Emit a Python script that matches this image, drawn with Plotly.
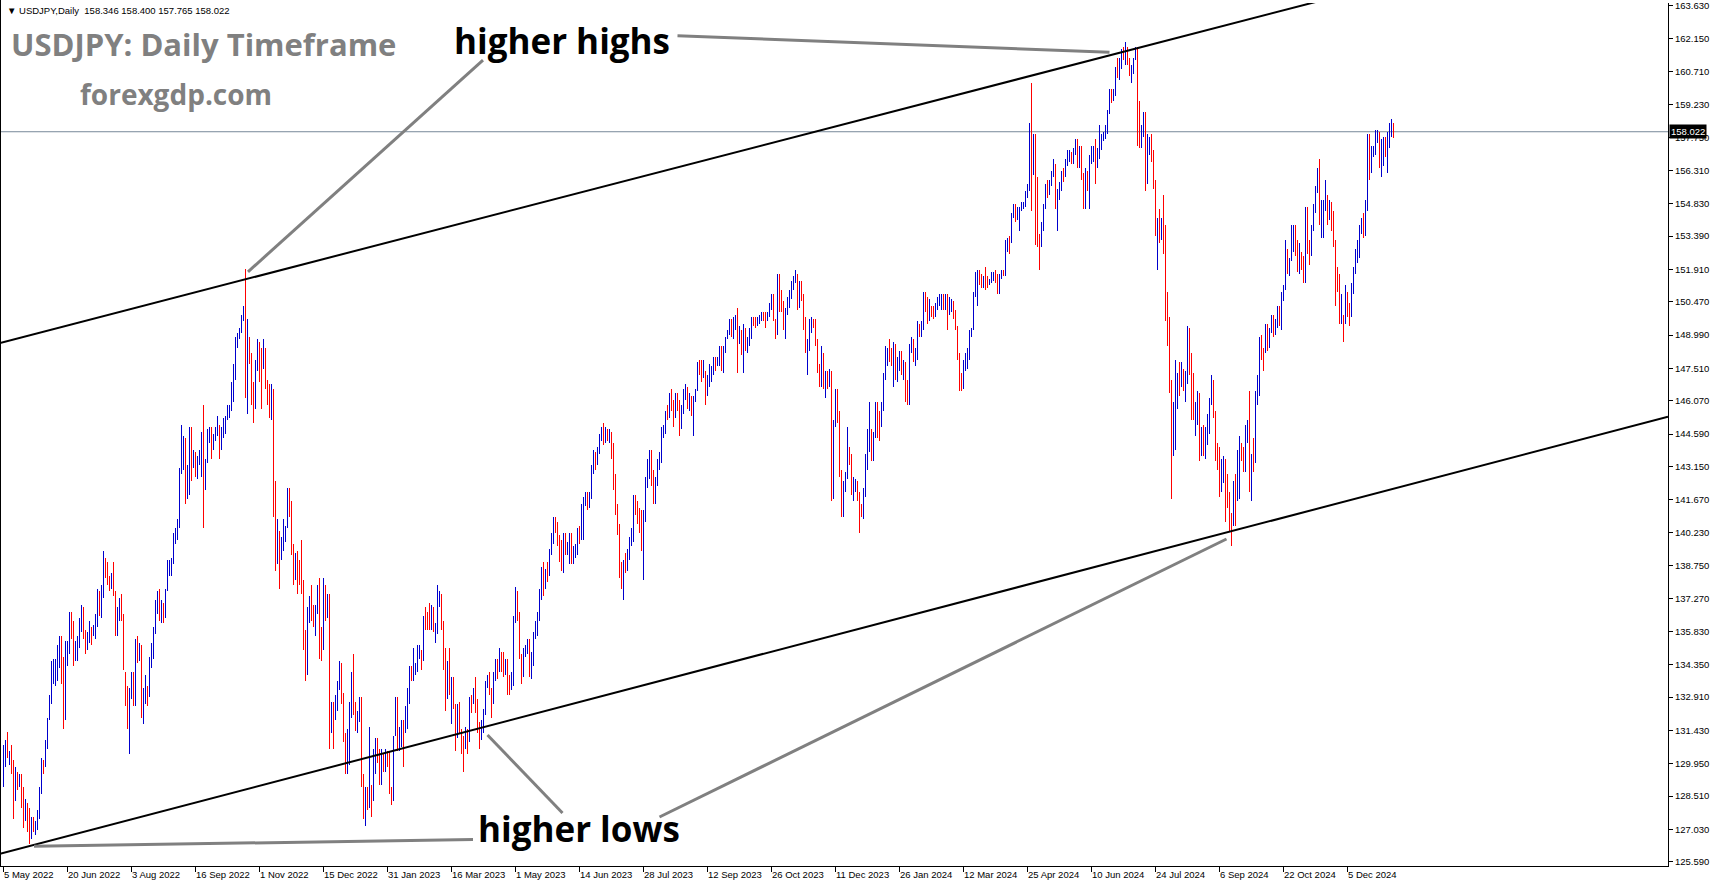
import plotly.graph_objects as go

# ---------------- data (USDJPY daily) ----------------
first_open = 129.1

highs = [
    130.8, 131.0,
    131.35, 130.5, 130.8, 130.1, 129.8,
    129.6, 129.5, 129.5, 128.9, 128.4,
    128.2, 128.0, 127.6, 127.6, 127.4,
    127.9, 128.9, 130.2, 130.1, 131.0,
    132.0, 133.0, 134.5, 134.6, 134.6,
    135.2, 135.6, 135.6, 134.7, 135.4,
    135.4, 136.7, 136.7, 136.3, 135.4,
    135.6, 136.4, 137.0, 136.9, 135.9,
    135.8, 136.3, 136.0, 136.1, 136.6,
    137.7, 137.6, 137.9, 139.4, 139.1,
    138.9, 138.3, 138.4, 138.9, 137.6,
    136.9, 137.3, 137.5, 136.6, 134.0,
    133.4, 133.3, 134.0, 134.0, 135.5,
    135.6, 135.3, 135.2, 133.3, 133.9,
    133.4, 134.7, 135.3, 136.0, 137.2,
    137.6, 137.7, 137.2, 137.1, 137.7,
    139.0, 139.0, 139.1, 140.2, 140.4,
    140.8, 143.1, 145.0, 144.5, 144.4,
    143.2, 144.9, 144.9, 143.9, 143.8,
    143.6, 143.9, 144.7, 145.9, 143.5,
    144.8, 144.9, 144.9, 144.6, 144.9,
    145.4, 145.0, 144.9, 145.3, 145.4,
    145.9, 145.9, 146.9, 147.7, 148.9,
    149.1, 149.3, 149.9, 150.3, 151.94,
    149.7, 148.9, 148.2, 146.9, 147.9,
    148.8, 148.7, 148.4, 148.8, 148.4,
    147.0, 146.8, 146.8, 146.6, 142.5,
    140.8, 140.3, 140.0, 140.8, 140.5,
    142.2, 142.2, 141.6, 139.7, 139.3,
    139.4, 139.0, 139.9, 138.1, 135.9,
    136.9, 137.4, 137.9, 137.0, 137.0,
    137.9, 138.2, 136.0, 138.2, 137.9,
    137.5, 137.5, 132.7, 132.7, 133.0,
    133.6, 134.5, 134.4, 133.1,
    131.3, 131.5, 132.7, 134.0, 134.8,
    132.7, 132.3, 132.9, 132.9, 129.5,
    128.9, 128.9, 131.6, 129.0, 130.6,
    131.1, 131.1, 130.6, 130.6, 130.4,
    130.6, 130.5, 130.5, 128.9, 131.2,
    132.9, 132.9, 131.6, 131.9, 131.9,
    132.5, 133.3, 134.3, 134.3, 135.1,
    134.4, 135.2, 135.2, 135.0, 136.5,
    136.9, 136.7, 137.1, 137.0, 136.9,
    136.2, 137.9, 137.6, 137.5, 136.3,
    135.1, 134.5, 135.1, 133.8, 133.8,
    132.6, 132.6, 132.7, 131.5, 131.2,
    131.6, 131.5, 132.9, 133.0, 133.3,
    133.8, 132.8, 131.8, 131.9, 132.4,
    133.6, 133.9, 134.0, 133.3, 134.0,
    134.6, 134.6, 135.1, 134.9, 134.9,
    134.6, 134.6, 133.9, 134.0, 136.5,
    137.8, 137.6, 136.7, 134.8, 135.1,
    135.2, 135.5, 135.5, 134.9, 135.8,
    136.3, 136.7, 137.7, 138.7, 138.9,
    138.6, 138.9, 139.5, 140.2, 140.9,
    140.9, 140.7, 140.1, 139.9, 140.2,
    140.2, 139.8, 140.2, 140.2, 139.6,
    139.7, 140.4, 140.5, 141.5, 141.8,
    142.0, 142.0, 142.0, 143.2, 143.9,
    143.8, 144.0, 144.6, 144.9, 145.1,
    144.9, 144.8, 144.8, 144.7, 144.2,
    142.8, 141.5, 140.6, 138.9, 139.0,
    139.3, 139.5, 140.0, 140.4, 141.9,
    141.9, 141.6, 141.3, 141.2, 141.2,
    142.7, 143.5, 143.9, 143.9, 143.0,
    142.7, 143.5, 143.8, 144.9, 145.0,
    145.6, 145.9, 146.4, 146.6, 146.1,
    146.4, 146.4, 146.1, 145.9, 146.6,
    146.8, 146.7, 146.4, 146.3, 146.3,
    146.6, 147.8, 147.9, 147.9, 147.9,
    147.4, 147.2, 147.7, 147.6, 148.0,
    148.0, 148.0, 148.5, 148.5, 148.5,
    148.9, 149.2, 149.7, 149.7, 149.8,
    149.9, 150.2, 149.4, 149.2, 149.5,
    149.3, 148.9, 149.3, 149.8, 149.8,
    149.8, 149.8, 149.9, 150.0, 150.0,
    150.0, 150.0, 150.4, 150.8, 150.8,
    149.7, 151.7, 151.7, 151.0, 150.5,
    150.2, 150.7, 151.0, 151.4, 151.6,
    151.9, 151.7, 151.4, 151.4, 150.8,
    149.8, 148.8, 149.7, 149.8, 149.7,
    149.7, 148.8, 147.7, 148.5, 148.2,
    147.4, 147.4, 147.5, 147.4, 145.2,
    146.6, 146.6, 145.6, 143.0, 142.5,
    142.9, 144.9, 144.0, 143.7, 142.7,
    142.6, 142.5, 142.0, 141.5,
    142.2, 143.7, 144.8, 146.0,
    144.8, 144.7, 146.0, 146.0, 145.6,
    146.0, 147.3, 148.5, 148.4, 148.8,
    148.4, 148.7, 148.6, 148.0, 148.3,
    148.3, 147.9, 147.8, 147.0, 148.6,
    148.9, 148.8, 148.4, 149.6, 149.5,
    149.6, 150.9, 150.9, 150.7, 150.6,
    150.3, 150.3, 150.4, 150.7, 150.8,
    150.8, 150.8, 150.8, 150.8, 150.7,
    150.6, 150.5, 150.1, 149.4, 148.2,
    147.3, 147.9, 148.2, 148.4, 149.2,
    149.3, 150.9, 151.8, 151.9, 151.9,
    151.7, 151.6, 152.0, 151.6, 151.5,
    151.8, 151.8, 151.9, 151.7, 151.7,
    151.9, 151.9, 153.2, 153.3, 153.4,
    154.4, 154.8, 154.8, 154.7, 154.7,
    154.9, 154.9, 155.4, 155.7, 158.4,
    160.2, 157.9, 157.9, 156.0, 153.5,
    154.0, 154.8, 155.7, 155.9, 155.9,
    156.3, 156.8, 156.6, 155.5, 155.8,
    156.3, 156.4, 156.8, 157.2, 157.2,
    157.1, 157.3, 157.7, 157.7, 157.4,
    157.4, 156.2, 156.4, 156.3, 157.0,
    157.4, 157.4, 157.7, 157.3, 158.3,
    157.9, 158.0, 158.3, 159.0, 159.9,
    159.9, 159.9, 160.9, 161.3, 161.3,
    161.7, 161.8, 162.0, 161.8, 161.3,
    161.0, 161.3, 161.8, 161.8, 159.4,
    158.3, 158.9, 158.9, 157.9, 157.8,
    157.9, 157.2, 155.9, 154.2, 154.6,
    154.2, 155.2, 153.9, 150.9, 149.8,
    147.0, 146.0, 147.9, 147.3, 147.8,
    147.8, 147.5, 147.4, 149.4, 149.3,
    148.2, 147.3, 146.0, 146.5, 146.4,
    144.9, 145.0, 144.9, 145.5, 146.2,
    147.2, 147.0, 145.6, 144.2, 144.0,
    143.5, 143.6, 143.5, 142.8, 142.0,
    141.1, 142.5, 142.8, 143.9, 144.5,
    144.2, 144.0, 145.0, 145.2, 146.5,
    143.7, 144.4, 146.5, 147.2, 148.9,
    149.0, 148.4, 149.5, 149.5, 149.3,
    149.9, 149.9, 149.7, 150.3, 150.3,
    150.9, 151.2, 153.2, 152.8, 152.4,
    153.9, 153.9, 153.9, 153.2, 153.1,
    152.7, 152.5, 154.7, 154.7, 153.2,
    153.9, 154.8, 155.6, 156.4, 156.8,
    155.0, 155.0, 155.9, 155.2, 155.0,
    154.9, 154.5, 153.2, 152.0, 151.7,
    150.8, 149.9, 151.2, 150.9, 150.4,
    151.3, 152.0, 152.8, 153.2, 153.9,
    154.2, 154.4, 155.0, 157.9, 157.9,
    157.4, 157.4, 158.1, 158.1,
    158.0, 157.7,
    157.8, 157.8,
    158.0, 158.4, 158.6, 158.4,
]

lows = [
    128.9, 129.8,
    130.2, 129.9, 129.5, 127.5, 128.3,
    128.8, 128.9, 128.0, 127.1, 127.4,
    126.9, 126.36, 126.6, 126.9, 126.8,
    127.0, 127.5, 128.6, 129.5, 129.8,
    130.6, 131.9, 132.6, 133.5, 133.4,
    133.6, 134.2, 133.5, 131.5, 131.9,
    134.3, 134.8, 135.5, 134.3, 134.5,
    134.5, 135.1, 135.8, 135.5, 134.8,
    135.0, 135.3, 135.2, 135.6, 135.5,
    136.0, 136.5, 136.4, 137.3, 138.2,
    137.9, 137.6, 137.7, 137.4, 135.6,
    135.6, 136.3, 136.3, 134.1, 132.5,
    131.5, 130.4, 132.8, 132.5, 132.5,
    134.4, 134.5, 132.0, 131.7, 132.6,
    132.5, 132.9, 134.2, 134.6, 135.7,
    136.6, 136.3, 136.2, 136.2, 136.4,
    137.6, 138.3, 138.3, 138.8, 139.7,
    139.9, 140.4, 142.8, 143.0, 141.5,
    141.7, 141.9, 142.5, 143.1, 142.7,
    142.6, 143.2, 142.7, 140.4, 142.1,
    143.3, 144.2, 143.5, 143.9, 144.3,
    144.5, 143.5, 143.9, 144.4, 144.6,
    145.2, 145.3, 145.6, 146.0, 147.0,
    148.4, 148.8, 149.1, 149.6, 146.2,
    145.5, 147.7, 145.9, 145.1, 145.7,
    147.4, 146.9, 145.7, 147.5, 146.6,
    145.9, 145.3, 145.2, 140.9, 138.5,
    138.8, 137.7, 139.0, 139.4, 139.8,
    140.4, 140.9, 139.2, 137.9, 138.1,
    137.5, 137.9, 137.5, 135.0, 133.6,
    133.9, 136.2, 136.3, 136.0, 135.6,
    136.6, 134.6, 134.5, 135.0, 136.3,
    136.4, 130.6, 131.3, 130.6, 131.9,
    132.3, 133.2, 132.6, 130.9,
    129.5, 129.5, 129.9, 132.0, 132.1,
    131.4, 131.3, 131.8, 128.9, 127.5,
    127.2, 127.9, 128.0, 127.6, 128.3,
    129.5, 130.0, 129.0, 129.0, 129.6,
    129.6, 129.8, 128.6, 128.1, 128.3,
    131.2, 130.5, 130.5, 130.7, 129.8,
    131.3, 131.5, 132.6, 133.6, 133.6,
    133.9, 134.0, 134.6, 134.1, 134.5,
    135.9, 135.9, 135.9, 135.9, 135.8,
    135.3, 135.7, 136.9, 135.9, 134.1,
    132.3, 132.8, 133.0, 131.7, 132.4,
    130.5, 131.1, 131.3, 130.4, 129.6,
    130.6, 130.4, 130.9, 132.2, 132.6,
    132.2, 131.3, 130.6, 131.0, 131.3,
    132.1, 133.3, 133.0, 132.0, 132.6,
    133.6, 133.7, 134.0, 134.0, 133.8,
    133.9, 133.0, 133.0, 133.2, 133.4,
    136.2, 136.3, 134.6, 133.5, 133.8,
    134.7, 134.8, 133.8, 133.7, 134.3,
    135.5, 135.6, 136.3, 137.2, 137.4,
    137.7, 138.0, 138.3, 139.2, 139.7,
    140.2, 139.6, 138.9, 138.5, 138.4,
    139.2, 139.2, 138.8, 138.8, 138.8,
    139.1, 139.2, 139.7, 139.9, 139.9,
    141.4, 141.2, 141.3, 141.7, 142.8,
    143.0, 143.2, 143.7, 144.3, 144.1,
    144.2, 144.3, 144.2, 143.5, 142.1,
    141.0, 140.1, 138.2, 137.7, 137.2,
    138.4, 138.5, 139.0, 139.6, 139.8,
    141.0, 140.6, 140.2, 139.4, 138.1,
    140.7, 142.2, 142.6, 142.3, 141.5,
    141.5, 142.3, 143.0, 143.3, 144.4,
    144.6, 145.2, 145.3, 145.6, 144.9,
    145.3, 145.6, 144.5, 144.8, 145.5,
    146.1, 145.7, 145.6, 145.4, 144.5,
    146.0, 146.5, 147.2, 146.9, 147.1,
    145.9, 146.3, 146.7, 146.9, 147.2,
    147.4, 147.6, 147.6, 147.4, 147.3,
    148.2, 148.8, 149.0, 148.9, 148.8,
    149.2, 147.3, 148.6, 148.1, 147.3,
    148.3, 148.2, 148.5, 148.8, 149.4,
    149.3, 149.4, 149.5, 149.6, 149.6,
    149.3, 149.6, 149.8, 150.1, 149.6,
    148.8, 149.0, 150.0, 150.0, 149.2,
    148.8, 149.9, 150.2, 150.6, 151.0,
    151.3, 150.1, 150.2, 150.5, 149.2,
    148.2, 147.2, 148.3, 149.1, 149.3,
    148.5, 147.3, 146.7, 146.7, 146.6,
    146.2, 146.6, 146.7, 141.6, 141.7,
    144.9, 145.1, 142.7, 140.9, 140.9,
    142.0, 142.6, 143.2, 141.9, 141.6,
    142.0, 141.6, 140.2, 140.9,
    140.8, 141.8, 143.0, 143.8,
    143.4, 143.4, 144.4, 144.4, 144.3,
    144.9, 145.6, 147.0, 147.6, 147.8,
    147.6, 146.7, 147.0, 146.9, 147.4,
    147.2, 147.0, 146.0, 145.9, 145.9,
    148.2, 147.8, 147.6, 147.9, 148.9,
    148.9, 149.2, 150.0, 149.5, 149.6,
    149.8, 149.7, 149.8, 150.1, 150.3,
    150.1, 150.1, 150.1, 149.2, 149.9,
    150.0, 149.7, 149.2, 147.9, 146.5,
    146.5, 146.6, 147.4, 147.5, 147.9,
    148.9, 149.2, 150.7, 150.3, 151.2,
    151.1, 151.1, 151.0, 151.1, 151.2,
    151.3, 151.4, 151.3, 150.8, 150.8,
    151.5, 151.6, 151.6, 152.7, 152.6,
    153.1, 154.2, 154.0, 154.1, 153.6,
    154.5, 154.6, 154.7, 155.1, 155.4,
    154.5, 156.1, 153.0, 152.9, 151.9,
    152.9, 153.6, 154.6, 155.1, 155.2,
    155.6, 156.0, 154.6, 153.6, 155.0,
    155.4, 155.8, 156.0, 156.5, 156.7,
    156.6, 156.6, 157.0, 156.4, 156.4,
    155.9, 154.6, 154.6, 155.4, 154.6,
    156.6, 156.7, 155.7, 156.4, 156.8,
    157.2, 157.6, 157.7, 157.9, 158.8,
    159.3, 159.4, 159.6, 160.4, 160.3,
    160.8, 161.2, 161.0, 161.0, 160.5,
    160.2, 160.6, 161.2, 157.4, 157.3,
    157.3, 157.8, 155.4, 155.7, 157.0,
    156.7, 155.5, 153.4, 151.9, 153.1,
    153.2, 152.6, 149.6, 148.5, 146.4,
    141.7, 143.6, 143.9, 145.7, 146.3,
    146.7, 146.5, 146.0, 146.8, 147.2,
    145.2, 145.2, 144.5, 145.0, 143.4,
    143.6, 143.6, 143.5, 144.1, 144.6,
    145.9, 145.3, 143.4, 143.0, 141.8,
    142.0, 142.4, 140.7, 141.3, 140.3,
    139.6, 140.5, 140.5, 141.6, 141.7,
    143.4, 142.9, 142.9, 144.2, 142.0,
    141.6, 142.9, 143.3, 145.9, 146.3,
    147.9, 147.4, 148.2, 148.3, 148.4,
    149.1, 148.9, 149.0, 149.3, 149.4,
    149.2, 150.5, 151.0, 151.7, 151.6,
    152.3, 152.7, 152.5, 151.8, 151.7,
    151.9, 151.3, 151.3, 152.6, 152.1,
    152.5, 153.6, 154.4, 155.3, 153.9,
    153.3, 153.3, 154.5, 153.9, 154.1,
    153.6, 152.9, 150.3, 150.9, 149.5,
    149.5, 148.7, 149.5, 149.8, 149.4,
    149.8, 150.8, 151.7, 152.2, 152.4,
    153.5, 153.3, 153.4, 154.5, 155.9,
    156.2, 156.9, 157.0, 157.5,
    156.4, 156.0,
    156.5, 156.9,
    156.2, 157.3, 157.8, 157.765,
]

closes = [
    130.2, 130.6,
    130.3, 130.45, 129.9, 128.3, 129.2,
    129.1, 129.3, 128.2, 127.8, 127.9,
    127.6, 126.9, 127.3, 127.1, 127.2,
    127.6, 128.7, 130.0, 129.9, 130.9,
    131.9, 132.6, 134.2, 134.4, 134.45,
    134.5, 135.4, 134.0, 132.2, 134.9,
    135.0, 136.6, 136.2, 134.9, 135.2,
    135.4, 136.1, 136.6, 135.7, 135.2,
    135.7, 135.9, 135.8, 136.0, 136.1,
    137.4, 136.9, 137.4, 138.9, 138.5,
    138.2, 138.1, 138.2, 137.4, 136.1,
    136.7, 136.9, 136.6, 134.2, 133.3,
    131.6, 133.1, 133.8, 133.0, 135.0,
    134.9, 135.1, 132.9, 133.0, 133.4,
    133.3, 134.2, 135.0, 135.9, 137.0,
    137.5, 136.8, 137.1, 136.5, 137.5,
    138.7, 138.8, 138.9, 140.2, 140.25,
    140.5, 142.8, 144.0, 144.1, 142.6,
    142.8, 144.6, 143.2, 143.5, 142.9,
    143.2, 143.7, 144.0, 142.4, 143.4,
    144.7, 144.8, 144.2, 144.4, 144.7,
    144.9, 144.1, 144.6, 145.1, 145.3,
    145.7, 145.8, 146.9, 147.2, 148.7,
    148.9, 149.2, 149.9, 150.1, 147.6,
    148.9, 148.0, 146.3, 146.2, 147.5,
    148.7, 148.2, 147.9, 148.2, 146.6,
    146.6, 145.6, 146.4, 141.0, 138.8,
    139.9, 139.3, 139.5, 140.3, 140.4,
    142.1, 141.2, 139.6, 138.6, 139.1,
    138.9, 138.7, 138.0, 135.3, 134.3,
    136.7, 137.0, 136.6, 136.5, 136.6,
    137.7, 135.6, 135.5, 137.8, 136.7,
    136.9, 131.7, 132.4, 132.3, 132.9,
    133.5, 134.4, 133.0, 131.1,
    130.7, 131.0, 132.4, 133.4, 132.1,
    131.9, 132.2, 132.5, 129.1, 127.9,
    128.5, 128.1, 128.9, 128.4, 129.6,
    130.7, 130.2, 129.2, 130.2, 129.9,
    130.4, 130.1, 128.9, 128.6, 131.2,
    132.6, 131.1, 131.4, 131.7, 131.4,
    132.4, 133.1, 134.1, 133.9, 134.2,
    134.3, 134.9, 135.0, 134.7, 136.4,
    136.3, 136.2, 136.1, 136.7, 135.8,
    135.9, 137.2, 137.3, 136.1, 134.9,
    133.2, 134.2, 133.4, 133.7, 132.4,
    131.3, 132.4, 131.4, 130.8, 130.7,
    131.5, 130.9, 132.9, 132.7, 132.8,
    132.5, 131.7, 131.2, 131.7, 132.2,
    133.6, 133.7, 133.1, 132.6, 133.8,
    134.5, 134.1, 134.7, 134.6, 134.2,
    134.3, 133.7, 133.6, 133.9, 136.3,
    137.5, 136.5, 134.6, 134.3, 134.8,
    135.1, 135.2, 134.3, 134.5, 135.7,
    136.1, 136.4, 137.7, 138.7, 137.9,
    138.6, 138.5, 139.5, 140.0, 140.6,
    140.4, 139.8, 139.3, 138.8, 140.0,
    139.6, 139.7, 140.1, 139.0, 139.4,
    139.6, 140.2, 140.0, 140.3, 141.8,
    141.9, 141.6, 141.9, 143.1, 143.7,
    143.5, 143.8, 144.6, 144.8, 144.3,
    144.6, 144.5, 144.6, 144.1, 142.2,
    141.3, 140.4, 138.5, 138.1, 138.8,
    138.7, 139.3, 139.7, 140.1, 141.8,
    141.5, 140.9, 140.3, 139.5, 141.2,
    142.3, 143.3, 143.4, 142.6, 141.8,
    142.5, 143.4, 143.7, 144.8, 144.9,
    145.6, 145.5, 146.4, 145.9, 145.4,
    146.2, 145.9, 144.8, 145.8, 146.4,
    146.5, 145.9, 146.2, 145.5, 146.2,
    146.5, 147.7, 147.6, 147.3, 147.8,
    146.6, 147.1, 147.4, 147.5, 147.9,
    147.6, 147.9, 148.3, 147.6, 148.4,
    148.9, 149.1, 149.6, 149.3, 149.4,
    149.8, 149.0, 149.1, 148.5, 149.3,
    148.5, 148.7, 149.1, 149.8, 149.6,
    149.5, 149.7, 149.8, 149.9, 149.8,
    149.7, 149.9, 150.4, 150.5, 149.6,
    149.1, 151.7, 150.9, 150.4, 149.4,
    150.1, 150.4, 150.9, 151.4, 151.5,
    151.7, 150.4, 151.4, 150.6, 149.6,
    148.4, 148.5, 149.5, 149.6, 149.4,
    148.7, 147.5, 147.2, 148.2, 146.8,
    147.2, 147.1, 147.3, 144.2, 144.9,
    146.2, 145.4, 142.9, 141.9, 142.2,
    142.8, 143.8, 143.6, 142.1, 142.4,
    142.5, 142.0, 141.4, 141.0,
    142.0, 143.3, 144.5, 144.6,
    144.2, 144.5, 145.7, 145.3, 144.9,
    145.8, 147.2, 148.1, 148.2, 148.1,
    148.0, 148.4, 147.4, 147.7, 148.1,
    147.5, 147.6, 146.9, 146.4, 148.4,
    148.7, 147.9, 148.2, 149.3, 149.2,
    149.4, 150.8, 150.5, 149.9, 150.2,
    150.1, 150.0, 150.3, 150.5, 150.6,
    150.7, 150.5, 150.7, 150.0, 150.1,
    150.5, 150.0, 149.4, 148.0, 147.1,
    146.9, 147.7, 147.8, 148.3, 149.0,
    149.1, 150.9, 151.3, 151.6, 151.4,
    151.35, 151.5, 151.3, 151.25, 151.4,
    151.6, 151.65, 151.6, 151.3, 151.6,
    151.8, 151.7, 153.2, 153.3, 153.25,
    154.3, 154.7, 154.4, 154.6, 154.65,
    154.8, 154.85, 155.3, 155.6, 158.3,
    156.3, 157.8, 153.6, 153.0, 152.9,
    153.9, 154.7, 155.6, 155.5, 155.8,
    156.2, 156.4, 154.9, 155.4, 155.7,
    156.2, 156.15, 156.8, 157.0, 157.05,
    156.9, 157.2, 157.6, 156.8, 157.3,
    156.1, 154.8, 156.1, 155.6, 156.8,
    157.0, 157.2, 156.7, 157.0, 157.4,
    157.7, 157.9, 158.1, 158.9, 159.8,
    159.7, 159.75, 160.8, 160.75, 160.9,
    161.5, 161.45, 161.7, 161.2, 160.7,
    160.8, 161.3, 161.6, 158.8, 157.9,
    158.0, 158.4, 156.2, 157.4, 157.5,
    157.0, 155.6, 153.8, 153.9, 153.8,
    153.9, 152.7, 150.0, 149.4, 146.5,
    144.2, 144.3, 146.7, 147.2, 146.6,
    147.2, 146.8, 146.9, 149.3, 147.6,
    146.6, 145.2, 145.3, 146.3, 144.4,
    144.5, 143.9, 144.6, 145.1, 146.2,
    146.9, 145.5, 143.7, 143.4, 142.3,
    143.2, 143.6, 142.4, 141.8, 140.8,
    140.6, 142.4, 142.3, 142.6, 143.9,
    143.6, 143.2, 144.8, 144.9, 142.2,
    143.6, 143.5, 146.4, 146.9, 148.7,
    148.2, 148.1, 149.3, 148.6, 149.1,
    149.8, 149.2, 149.6, 150.2, 149.5,
    150.8, 151.0, 152.7, 151.8, 152.3,
    153.3, 153.4, 153.35, 152.0, 152.9,
    152.0, 151.6, 154.6, 153.0, 152.6,
    153.7, 154.6, 155.5, 156.3, 154.3,
    154.6, 154.7, 155.4, 154.5, 154.8,
    154.2, 153.1, 151.6, 151.3, 149.8,
    149.9, 149.6, 150.6, 150.1, 150.0,
    151.2, 151.9, 152.5, 152.6, 153.6,
    154.1, 153.5, 154.9, 157.4, 156.4,
    157.2, 157.3, 157.9, 158.0,
    156.9, 157.2,
    157.5, 157.3,
    157.6, 158.1, 158.35, 158.022,
]

# daily forex bars open at the previous close
opens = [first_open] + closes[:-1]
bar_index = list(range(len(closes)))

date_labels = [
    "5 May 2022", "20 Jun 2022", "3 Aug 2022", "16 Sep 2022", "1 Nov 2022",
    "15 Dec 2022", "31 Jan 2023", "16 Mar 2023", "1 May 2023", "14 Jun 2023",
    "28 Jul 2023", "12 Sep 2023", "26 Oct 2023", "11 Dec 2023", "26 Jan 2024",
    "12 Mar 2024", "25 Apr 2024", "10 Jun 2024", "24 Jul 2024", "6 Sep 2024",
    "22 Oct 2024", "5 Dec 2024",
]
date_label_step = 32
date_label_bars = [i * date_label_step for i in range(len(date_labels))]

price_ticks = [
    163.630, 162.150, 160.710, 159.230, 157.750, 156.310, 154.830, 153.390,
    151.910, 150.470, 148.990, 147.510, 146.070, 144.590, 143.150, 141.670,
    140.230, 138.750, 137.270, 135.830, 134.350, 132.910, 131.430, 129.950,
    128.510, 127.030, 125.590,
]
last_price = 158.022
header_text = "\u25bc USDJPY,Daily  158.346 158.400 157.765 158.022"

# trend channel anchors (bar index, price)
upper_channel_bars = [0, 600]
upper_channel_prices = [148.675, 162.49]
lower_channel_bars = [0, 800]
lower_channel_prices = [125.98, 144.60]

# grey pointer lines (bar index, price)
pointer_lines = [
    ([240.0, 122.5], [161.2, 151.8]),
    ([337.25, 553.25], [162.29, 161.55]),
    ([15.5, 235.0], [126.28, 126.58]),
    ([242.25, 279.75], [131.22, 127.76]),
    ([328.25, 611.75], [127.58, 139.93]),
]

# ---------------- layout geometry ----------------
W, H = 1714, 888
PL, PR, PT, PB = 0, 1668, 3, 866
x_range = [-1.5, 832.5]
y_range = [125.403, 163.741]


def px_x(px):
    return (px - PL) / (PR - PL)


def px_y(py):
    return (PB - py) / (PB - PT)


def extend(bx, py, xr):
    slope = (py[1] - py[0]) / (bx[1] - bx[0])
    return list(xr), [py[0] + slope * (x - bx[0]) for x in xr]


fig = go.Figure()

fig.add_trace(go.Ohlc(
    x=bar_index, open=opens, high=highs, low=lows, close=closes,
    increasing=dict(line=dict(color="#0000cd", width=1)),
    decreasing=dict(line=dict(color="#ff0000", width=1)),
    tickwidth=0, hoverinfo="skip", showlegend=False,
))

for bx, py in [(upper_channel_bars, upper_channel_prices),
               (lower_channel_bars, lower_channel_prices)]:
    xs, ys = extend(bx, py, x_range)
    fig.add_trace(go.Scatter(x=xs, y=ys, mode="lines",
                             line=dict(color="black", width=2),
                             hoverinfo="skip", showlegend=False))

for bx, py in pointer_lines:
    fig.add_trace(go.Scatter(x=bx, y=py, mode="lines",
                             line=dict(color="#808080", width=3),
                             hoverinfo="skip", showlegend=False))

axis_font = dict(family="Liberation Sans, Arial, sans-serif", size=9.5, color="black")

fig.update_layout(
    width=W, height=H,
    margin=dict(l=PL, r=W - PR, t=PT, b=H - PB, pad=0),
    paper_bgcolor="white", plot_bgcolor="white",
    showlegend=False,
    xaxis=dict(
        range=x_range, tickmode="array", tickvals=date_label_bars, ticktext=date_labels,
        ticks="outside", ticklen=5, tickcolor="black", tickwidth=1,
        showline=True, linecolor="black", linewidth=1,
        showgrid=False, zeroline=False, ticklabelposition="outside right",
        tickfont=axis_font, rangeslider=dict(visible=False), fixedrange=True,
    ),
    yaxis=dict(
        side="right", range=y_range, tickmode="array", tickvals=price_ticks,
        ticktext=[f"{v:.3f}" for v in price_ticks],
        ticks="outside", ticklen=4, tickcolor="black", tickwidth=1,
        showline=True, linecolor="black", linewidth=1, ticklabeloverflow="allow",
        showgrid=False, zeroline=False, tickfont=axis_font, fixedrange=True,
    ),
    shapes=[
        dict(type="line", xref="paper", yref="y", x0=0, x1=1, y0=last_price, y1=last_price,
             line=dict(color="#778899", width=1), layer="below"),
        dict(type="line", xref="paper", yref="paper", x0=px_x(0.5), x1=px_x(0.5),
             y0=0, y1=px_y(0), line=dict(color="black", width=1)),
    ],
)

title_font = "Open Sans, Noto Sans, sans-serif"
annotations = [
    dict(text=header_text, x=px_x(5), y=px_y(10.5), xanchor="left", yanchor="middle",
         font=dict(family="Liberation Sans, Arial, sans-serif", size=9.5, color="black")),
    dict(text="USDJPY: Daily Timeframe", x=px_x(9), y=px_y(43.5), xanchor="left", yanchor="middle",
         font=dict(family=title_font, size=31, color="#808080", weight="bold")),
    dict(text="forexgdp.com", x=px_x(78), y=px_y(94), xanchor="left", yanchor="middle",
         font=dict(family=title_font, size=28, color="#808080", weight="bold")),
    dict(text="higher highs", x=px_x(452), y=px_y(40), xanchor="left", yanchor="middle",
         font=dict(family=title_font, size=35, color="black", weight="bold")),
    dict(text="higher lows", x=px_x(476), y=px_y(828), xanchor="left", yanchor="middle",
         font=dict(family=title_font, size=35, color="black", weight="bold")),
]
for a in annotations:
    a.update(xref="paper", yref="paper", showarrow=False)
    fig.add_annotation(**a)

fig.add_annotation(text=f"{last_price:.3f}", xref="paper", yref="y", x=1, y=last_price,
                   xanchor="left", yanchor="middle", showarrow=False, xshift=1,
                   bgcolor="black", borderpad=1,
                   font=dict(family="Liberation Sans, Arial, sans-serif", size=9.5, color="white"))

page_js = (
    "document.body.style.margin='0';"
    "document.body.style.overflow='hidden';"
    "document.querySelectorAll('.ohlclayer path').forEach(function(p){"
    "p.setAttribute('shape-rendering','crispEdges');p.style.shapeRendering='crispEdges';});"
)
fig.write_html("out.html", config={"displayModeBar": False, "staticPlot": True},
               post_script=page_js)
